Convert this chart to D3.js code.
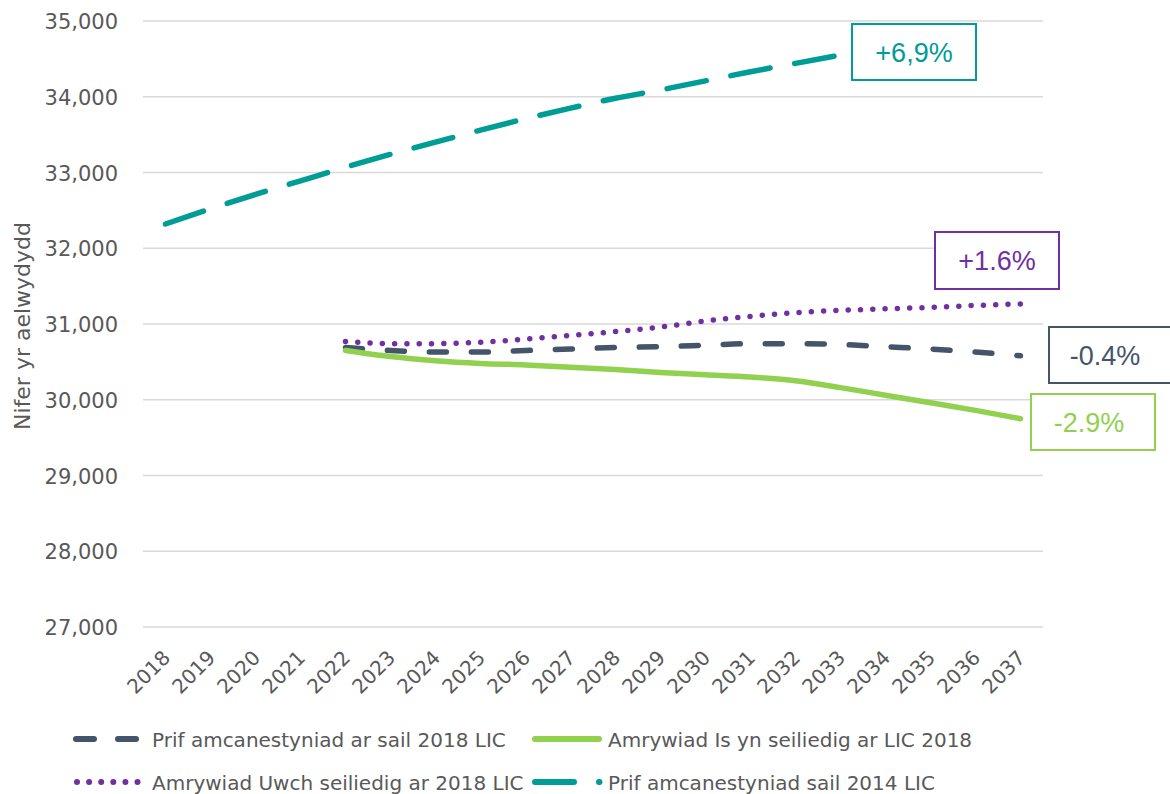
<!DOCTYPE html>
<html>
<head>
  <meta charset="utf-8">
  <title>Amcanestyniadau aelwydydd</title>
  <script src="https://d3js.org/d3.v7.min.js"></script>
  <style>
    body { margin: 0; background: #fff; }
    svg text { font-family: "DejaVu Sans", sans-serif; fill: #595959; }
  </style>
</head>
<body>
<svg id="chart" width="1170" height="794"></svg>
<script>
var years = [2018,2019,2020,2021,2022,2023,2024,2025,2026,2027,2028,2029,2030,2031,2032,2033,2034,2035,2036,2037];

// Prif amcanestyniad ar sail 2018 LIC
var prif2018 = [null,null,null,null,30690,30650,30630,30630,30650,30670,30690,30700,30720,30740,30740,30730,30700,30670,30630,30580];
// Amrywiad Is
var isVar = [null,null,null,null,30650,30570,30515,30480,30460,30430,30400,30360,30330,30300,30250,30160,30060,29960,29860,29750];
// Amrywiad Uwch
var uwchVar = [null,null,null,null,30770,30740,30740,30760,30800,30850,30900,30960,31040,31100,31150,31180,31200,31220,31245,31265];
// Prif amcanestyniad sail 2014 LIC
var prif2014 = [32320,32520,32710,32890,33070,33240,33400,33560,33710,33850,33980,34090,34210,34330,34440,34550,null,null,null,null];

var yTicks = [27000,28000,29000,30000,31000,32000,33000,34000,35000];
var labels = ["+6,9%","+1.6%","-0.4%","-2.9%"];
var legendNames = ["Prif amcanestyniad ar sail 2018 LIC","Amrywiad Is yn seiliedig ar LIC 2018","Amrywiad Uwch seiliedig ar 2018 LIC","Prif amcanestyniad sail 2014 LIC"];

var svg = d3.select("#chart");

var x = d3.scaleBand().domain(years).range([143, 1043]);
var y = d3.scaleLinear().domain([27000, 35000]).range([627, 21]);
var cx = function(yr) { return x(yr) + x.bandwidth()/2; };

// gridlines
svg.append("g").selectAll("line").data(yTicks).enter().append("line")
  .attr("x1", 143).attr("x2", 1043)
  .attr("y1", function(d){ return y(d); }).attr("y2", function(d){ return y(d); })
  .attr("stroke", "#d9d9d9").attr("stroke-width", 1.5);

// y axis
var yAxis = svg.append("g").attr("transform", "translate(121,0)")
  .call(d3.axisLeft(y).tickValues(yTicks).tickSize(0).tickFormat(d3.format(",")));
yAxis.select(".domain").remove();
yAxis.selectAll("text").attr("font-size", 21).attr("dx", 0).attr("dy", "0.36em")
  .style("font-family", "DejaVu Sans, sans-serif").attr("fill", "#595959");

// x axis
var xAxis = svg.append("g").attr("transform", "translate(0,627)")
  .call(d3.axisBottom(x).tickSize(0));
xAxis.select(".domain").remove();
xAxis.selectAll("text")
  .attr("font-size", 20).attr("fill", "#595959")
  .style("font-family", "DejaVu Sans, sans-serif")
  .style("text-anchor", "end")
  .attr("y", 0).attr("dy", 0)
  .attr("transform", "translate(6,32) rotate(-45)");

svg.append("text")
  .attr("transform", "translate(30,326) rotate(-90)")
  .attr("text-anchor", "middle").attr("font-size", 22)
  .text("Nifer yr aelwydydd");

var series = [
  { vals: prif2014, color: "#009C96", dash: "40,25" },
  { vals: prif2018, color: "#44546A", dash: "17,25" },
  { vals: isVar, color: "#92D050", dash: null },
  { vals: uwchVar, color: "#7030A0", dash: "0,12.3" }
];

var line = d3.line()
  .defined(function(d){ return d.v != null; })
  .x(function(d){ return cx(d.yr); })
  .y(function(d){ return y(d.v); })
  .curve(d3.curveMonotoneX);

series.forEach(function(s) {
  var pts = years.map(function(yr, i){ return { yr: yr, v: s.vals[i] }; });
  svg.append("path").datum(pts)
    .attr("d", line)
    .attr("fill", "none")
    .attr("stroke", s.color)
    .attr("stroke-width", 5.5)
    .attr("stroke-linecap", "round")
    .attr("stroke-dasharray", s.dash);
});

// annotation boxes
var boxes = [
  { t: labels[0], c: "#009C96", x: 852, y: 24, w: 124, h: 56, tx: 914 },
  { t: labels[1], c: "#7030A0", x: 935, y: 232, w: 124, h: 57, tx: 997 },
  { t: labels[2], c: "#44546A", x: 1049, y: 327, w: 124, h: 56, tx: 1105 },
  { t: labels[3], c: "#92D050", x: 1031, y: 394, w: 124, h: 56, tx: 1089 }
];
boxes.forEach(function(b) {
  svg.append("rect").attr("x", b.x).attr("y", b.y).attr("width", b.w).attr("height", b.h)
    .attr("fill", "#fff").attr("stroke", b.c).attr("stroke-width", 2);
  svg.append("text").attr("x", b.tx).attr("y", b.y + b.h/2)
    .attr("dy", "0.36em").attr("text-anchor", "middle")
    .attr("font-size", 27).style("font-family", "Liberation Sans, Arial, sans-serif")
    .style("fill", b.c).text(b.t);
});

// legend
var leg = svg.append("g");
function legSample(x1, x2, yy, color, dash) {
  leg.append("line").attr("x1", x1).attr("x2", x2).attr("y1", yy).attr("y2", yy)
    .attr("stroke", color).attr("stroke-width", 6).attr("stroke-linecap", "round")
    .attr("stroke-dasharray", dash);
}
legSample(76, 136, 739, "#44546A", "18,24");
legSample(535, 599, 739, "#92D050", null);
legSample(77, 138, 782, "#7030A0", "0,12.1");
legSample(535, 599.5, 782, "#009C96", "39,25");

var legPos = [[152, 747], [608, 747], [152, 790], [608, 790]];
legendNames.forEach(function(n, i) {
  leg.append("text").attr("x", legPos[i][0]).attr("y", legPos[i][1])
    .attr("font-size", 20).text(n);
});
</script>
</body>
</html>
